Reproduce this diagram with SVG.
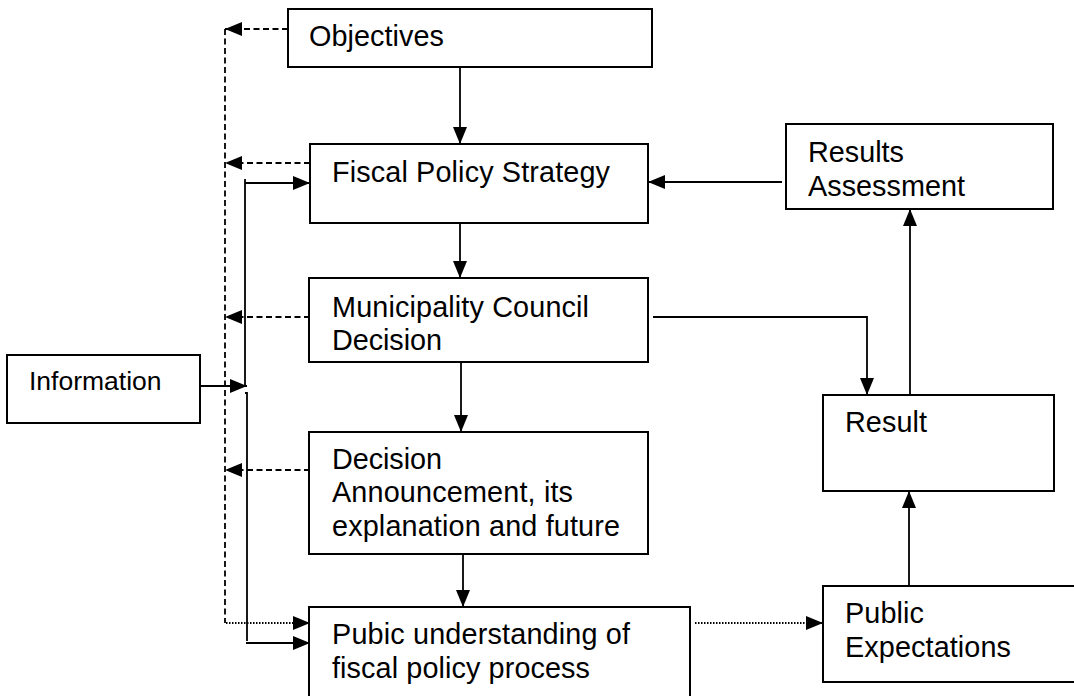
<svg xmlns="http://www.w3.org/2000/svg" width="1074" height="696" viewBox="0 0 1074 696">
<style>
.box{fill:#fff;stroke:#000;stroke-width:2}
.t{font-family:"Liberation Sans",Arial,sans-serif;font-size:28.8px;fill:#000}
.ln{fill:none;stroke:#000;stroke-width:1.8}
.dash{fill:none;stroke:#000;stroke-width:1.8;stroke-dasharray:6 3.5}
.dot{fill:none;stroke:#000;stroke-width:1.8;stroke-dasharray:1.5 1.5}
</style>
<defs>
<marker id="ah" markerUnits="userSpaceOnUse" markerWidth="18" markerHeight="14" refX="17" refY="7" orient="auto">
<path d="M0,0 L17,7 L0,14 z" fill="#000" stroke="none"/>
</marker>
</defs>
<rect width="1074" height="696" fill="#fff"/>
<g id="connectors">
<path class="ln" d="M460,67 V144" marker-end="url(#ah)"/>
<path class="ln" d="M460,221 V278" marker-end="url(#ah)"/>
<path class="ln" d="M461,356 V432" marker-end="url(#ah)"/>
<path class="ln" d="M463,554 V607" marker-end="url(#ah)"/>
<path class="ln" d="M782,182 H648" marker-end="url(#ah)"/>
<path class="ln" d="M653,317 H867 V395" marker-end="url(#ah)"/>
<path class="ln" d="M910,395 V209" marker-end="url(#ah)"/>
<path class="ln" d="M909,586 V491" marker-end="url(#ah)"/>
<path class="dot" d="M695,623 H823" marker-end="url(#ah)"/>
<path class="ln" d="M245,179 V387"/>
<path class="ln" d="M245,183 H310" marker-end="url(#ah)"/>
<path class="ln" d="M200,386 H247" marker-end="url(#ah)"/>
<path class="ln" d="M245,393 H247 V641"/>
<path class="ln" d="M246,643 H310" marker-end="url(#ah)"/>
<path class="dash" d="M225,29 V623"/>
<path class="dash" d="M288,29 H225" marker-end="url(#ah)"/>
<path class="dash" d="M310,163 H225" marker-end="url(#ah)"/>
<path class="dash" d="M310,317 H225" marker-end="url(#ah)"/>
<path class="dash" d="M310,470 H225" marker-end="url(#ah)"/>
<path class="dot" d="M226,623 H310" marker-end="url(#ah)"/>
</g>
<g id="objectives">
<rect class="box" x="288" y="9" width="364" height="58"/>
<text class="t" x="309" y="46" textLength="135" lengthAdjust="spacing">Objectives</text>
</g>
<g id="fiscal-policy-strategy">
<rect class="box" x="310" y="144" width="338" height="79"/>
<text class="t" x="332" y="182" textLength="278" lengthAdjust="spacing">Fiscal Policy Strategy</text>
</g>
<g id="results-assessment">
<rect class="box" x="786" y="124" width="267" height="85"/>
<text class="t" x="808" y="162" textLength="96" lengthAdjust="spacing">Results</text>
<text class="t" x="808" y="196" textLength="157" lengthAdjust="spacing">Assessment</text>
</g>
<g id="municipality-council-decision">
<rect class="box" x="309" y="278" width="339" height="84"/>
<text class="t" x="332" y="317" textLength="257" lengthAdjust="spacing">Municipality Council</text>
<text class="t" x="332" y="350" textLength="110" lengthAdjust="spacing">Decision</text>
</g>
<g id="information">
<rect class="box" x="7" y="355" width="193" height="68"/>
<text class="t" x="29" y="390" style="font-size:26.5px">Information</text>
</g>
<g id="decision-announcement">
<rect class="box" x="309" y="432" width="339" height="122"/>
<text class="t" x="332" y="469" textLength="110" lengthAdjust="spacing">Decision</text>
<text class="t" x="332" y="502" textLength="241" lengthAdjust="spacing">Announcement, its</text>
<text class="t" x="332" y="536" textLength="288" lengthAdjust="spacing">explanation and future</text>
</g>
<g id="result">
<rect class="box" x="823" y="395" width="231" height="96"/>
<text class="t" x="845" y="432" textLength="82" lengthAdjust="spacing">Result</text>
</g>
<g id="pubic-understanding">
<rect class="box" x="309" y="607" width="381" height="100"/>
<text class="t" x="332" y="644" textLength="298" lengthAdjust="spacing">Pubic understanding of</text>
<text class="t" x="332" y="678" textLength="258" lengthAdjust="spacing">fiscal policy process</text>
</g>
<g id="public-expectations">
<rect class="box" x="823" y="586" width="262" height="96"/>
<text class="t" x="845" y="623" textLength="79" lengthAdjust="spacing">Public</text>
<text class="t" x="845" y="657" textLength="166" lengthAdjust="spacing">Expectations</text>
</g>
</svg>
